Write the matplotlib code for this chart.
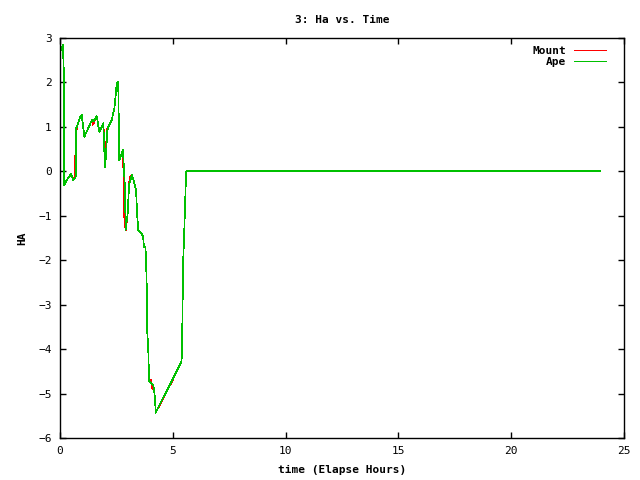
import matplotlib
matplotlib.use("Agg")
import matplotlib.pyplot as plt

ape_t = [0.0, 0.07, 0.13, 0.18, 0.18, 0.19, 0.27, 0.49, 0.59, 0.70, 0.71, 0.78, 0.89, 0.96,
         1.08, 1.18, 1.41, 1.48, 1.63, 1.74, 1.85, 1.92, 1.99, 2.03, 2.10, 2.14, 2.29, 2.41,
         2.48, 2.51, 2.58, 2.63, 2.73, 2.79, 2.85, 2.88, 2.91, 3.00, 3.06, 3.18, 3.28, 3.37,
         3.43, 3.47, 3.59, 3.68, 3.72, 3.79, 3.84, 3.86, 3.91, 3.95, 4.06, 4.14, 4.21, 4.24,
         5.39, 5.42, 5.46, 5.51, 5.59, 23.94]
ape_v = [2.66, 2.78, 2.84, 2.05, 0.48, -0.31, -0.22, -0.06, -0.20, -0.12, 0.97, 1.04, 1.22, 1.27,
         0.78, 0.89, 1.15, 1.12, 1.24, 0.89, 1.00, 1.08, 0.10, 0.30, 0.93, 1.00, 1.15, 1.42,
         1.76, 1.98, 2.02, 0.25, 0.40, 0.48, -0.08, -0.42, -1.32, -0.95, -0.31, -0.08, -0.23, -0.42,
         -1.05, -1.32, -1.39, -1.45, -1.70, -1.70, -2.45, -3.57, -3.95, -4.73, -4.77, -4.81, -5.10, -5.43,
         -4.28, -3.53, -2.03, -1.32, 0.0, 0.0]

mount_t = [0.0, 0.07, 0.13, 0.18, 0.18, 0.19, 0.27, 0.49, 0.59, 0.66, 0.66, 0.70, 0.70, 0.78, 0.89, 0.96,
           1.08, 1.18, 1.41, 1.46, 1.63, 1.74, 1.85, 1.92, 2.01, 2.01, 2.07, 2.07, 2.14, 2.29, 2.41,
           2.48, 2.51, 2.58, 2.63, 2.73, 2.79, 2.81, 2.81, 2.89, 2.92, 3.00, 3.06, 3.09, 3.18, 3.28, 3.37,
           3.43, 3.47, 3.59, 3.68, 3.72, 3.79, 3.84, 3.86, 3.91, 3.95, 4.04, 4.10, 4.14, 4.21, 4.24,
           4.95, 5.39, 5.42, 5.46, 5.51, 5.59, 23.94]
mount_v = [2.66, 2.78, 2.84, 2.05, 0.48, -0.31, -0.22, -0.06, -0.20, -0.12, 0.30, 0.40, 0.85, 1.04, 1.22, 1.27,
           0.78, 0.89, 1.15, 1.05, 1.24, 0.89, 1.00, 1.08, 0.30, 0.60, 0.70, 0.93, 1.00, 1.15, 1.42,
           1.76, 1.98, 2.02, 0.25, 0.40, 0.48, 0.04, -0.80, -1.25, -1.32, -0.95, -0.31, -0.15, -0.08, -0.23, -0.42,
           -1.05, -1.32, -1.39, -1.45, -1.70, -1.70, -2.45, -3.57, -3.95, -4.73, -4.70, -4.90, -4.81, -5.10, -5.43,
           -4.74, -4.28, -3.53, -2.03, -1.32, 0.0, 0.0]

title = "3: Ha vs. Time"
xlabel = "time (Elapse Hours)"
ylabel = "HA"

font = {"family": "DejaVu Sans Mono", "weight": "bold", "size": 8}

fig = plt.figure(figsize=(6.4, 4.8), dpi=100)
ax = fig.add_axes([60/640, 42/480, 564/640, 400/480])
ax.plot(mount_t, mount_v, color="#ff0000", lw=0.5, label="Mount", antialiased=False)
ax.plot(ape_t, ape_v, color="#00c000", lw=0.5, label="Ape", antialiased=False)
ax.set_xlim(0, 25)
ax.set_ylim(-6, 3)
ax.set_xticks(range(0, 26, 5))
ax.set_yticks(range(-6, 4))
ax.tick_params(direction="in", top=True, right=True, length=4, width=1, labelsize=8, pad=6)
for lab in ax.get_xticklabels() + ax.get_yticklabels():
    lab.set_fontfamily("DejaVu Sans Mono")
for s in ax.spines.values():
    s.set_linewidth(1)
ax.set_title(title, fontdict=font, pad=11)
ax.set_xlabel(xlabel, fontdict=font, labelpad=6)
ax.set_ylabel(ylabel, fontdict=font, labelpad=8)
leg = ax.legend(loc="upper right", frameon=False, markerfirst=False,
                prop={"family": "DejaVu Sans Mono", "weight": "bold", "size": 8},
                handlelength=2.9, labelspacing=0.15, borderaxespad=0.0, borderpad=0.5,
                handletextpad=0.7, bbox_to_anchor=(1 - 12/564, 1 - 2/400))
for line in leg.get_lines():
    line.set_antialiased(False)
    line.set_linewidth(0.72)
for t in leg.get_texts():
    t.set_ha("right")
fig.savefig("out.png", dpi=100)
